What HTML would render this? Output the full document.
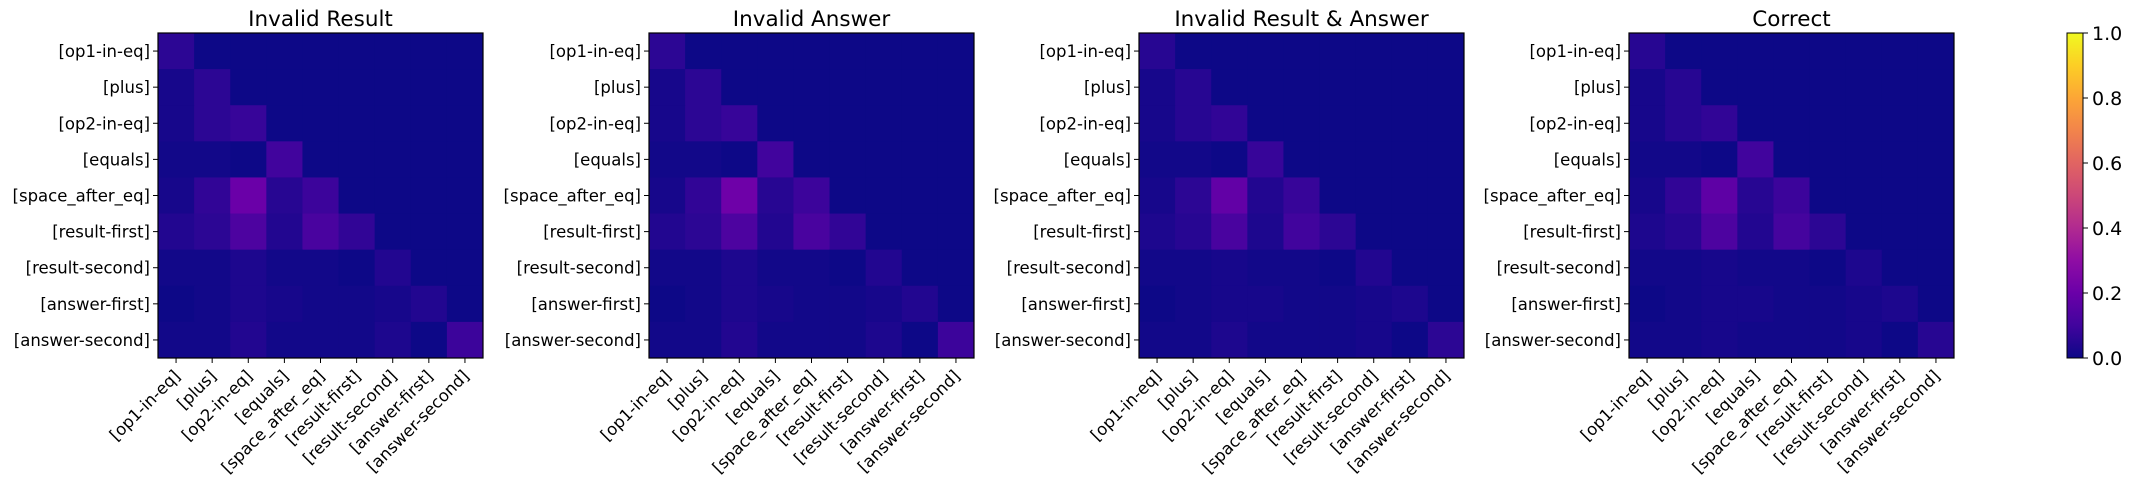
<!DOCTYPE html>
<html><head><meta charset="utf-8">
<style>
html,body{margin:0;padding:0;background:#fff;}
svg{display:block;font-family:"DejaVu Sans","Liberation Sans",sans-serif;}
</style></head>
<body>
<svg id="fig" width="2133" height="489" viewBox="0 0 2133 489" xmlns="http://www.w3.org/2000/svg">
<defs>
<linearGradient id="plasmaGrad" x1="0" y1="1" x2="0" y2="0">
<stop offset="0" stop-color="#0d0887"/><stop offset="0.1" stop-color="#41049d"/>
<stop offset="0.2" stop-color="#6a00a8"/><stop offset="0.3" stop-color="#8f0da4"/>
<stop offset="0.4" stop-color="#b12a90"/><stop offset="0.5" stop-color="#cc4778"/>
<stop offset="0.6" stop-color="#e16462"/><stop offset="0.7" stop-color="#f2844b"/>
<stop offset="0.8" stop-color="#fca636"/><stop offset="0.9" stop-color="#fcce25"/>
<stop offset="1" stop-color="#f0f921"/>
</linearGradient>
</defs>
</svg>
<script>
const labels = ["[op1-in-eq]","[plus]","[op2-in-eq]","[equals]","[space_after_eq]","[result-first]","[result-second]","[answer-first]","[answer-second]"];
const titles = ["Invalid Result","Invalid Answer","Invalid Result & Answer","Correct"];
const cbTicks = [0.0,0.2,0.4,0.6,0.8,1.0];
const m1 = [
[0.06,0,0,0,0,0,0,0,0],
[0.02,0.06,0,0,0,0,0,0,0],
[0.02,0.06,0.08,0,0,0,0,0,0],
[0.01,0.01,0.00,0.10,0,0,0,0,0],
[0.02,0.07,0.20,0.05,0.09,0,0,0,0],
[0.04,0.06,0.13,0.04,0.12,0.07,0,0,0],
[0.01,0.01,0.03,0.01,0.01,0.00,0.04,0,0],
[0.00,0.01,0.03,0.02,0.01,0.01,0.02,0.04,0],
[0.01,0.01,0.04,0.01,0.01,0.01,0.03,0.00,0.09]];
const m2 = [
[0.06,0,0,0,0,0,0,0,0],
[0.02,0.06,0,0,0,0,0,0,0],
[0.02,0.06,0.08,0,0,0,0,0,0],
[0.01,0.01,0.00,0.10,0,0,0,0,0],
[0.02,0.07,0.21,0.05,0.09,0,0,0,0],
[0.04,0.06,0.13,0.04,0.12,0.07,0,0,0],
[0.01,0.01,0.03,0.01,0.01,0.00,0.04,0,0],
[0.00,0.01,0.03,0.02,0.01,0.01,0.02,0.04,0],
[0.01,0.01,0.04,0.01,0.01,0.01,0.03,0.00,0.09]];
const m3 = [
[0.05,0,0,0,0,0,0,0,0],
[0.02,0.05,0,0,0,0,0,0,0],
[0.02,0.05,0.07,0,0,0,0,0,0],
[0.01,0.01,0.00,0.08,0,0,0,0,0],
[0.02,0.06,0.18,0.04,0.08,0,0,0,0],
[0.03,0.05,0.12,0.03,0.10,0.06,0,0,0],
[0.01,0.01,0.02,0.01,0.01,0.00,0.04,0,0],
[0.00,0.01,0.02,0.02,0.01,0.01,0.02,0.03,0],
[0.01,0.01,0.03,0.01,0.01,0.01,0.02,0.00,0.06]];
const m4 = [
[0.05,0,0,0,0,0,0,0,0],
[0.02,0.05,0,0,0,0,0,0,0],
[0.02,0.05,0.07,0,0,0,0,0,0],
[0.01,0.01,0.00,0.10,0,0,0,0,0],
[0.02,0.07,0.17,0.05,0.09,0,0,0,0],
[0.03,0.05,0.13,0.04,0.11,0.06,0,0,0],
[0.01,0.01,0.02,0.01,0.01,0.00,0.03,0,0],
[0.00,0.01,0.02,0.02,0.01,0.01,0.02,0.03,0],
[0.01,0.01,0.02,0.01,0.01,0.01,0.02,0.00,0.05]];
const matrices = [m1,m2,m3,m4];

const NS="http://www.w3.org/2000/svg";
const svg=document.getElementById('fig');
const stops=[[13,8,135],[65,4,157],[106,0,168],[143,13,164],[177,42,144],[204,71,120],[225,100,98],[242,132,75],[252,166,54],[252,206,37],[240,249,33]];
function plasma(v){v=Math.max(0,Math.min(1,v));const f=v*10,i=Math.min(9,Math.floor(f)),t=f-i;const a=stops[i],b=stops[i+1];
return 'rgb('+a.map((c,k)=>Math.round(c+(b[k]-c)*t)).join(',')+')';}
function el(tag,attrs,parent){const e=document.createElementNS(NS,tag);for(const k in attrs)e.setAttribute(k,attrs[k]);(parent||svg).appendChild(e);return e;}
const panelX=[158,649,1139,1629], top0=33, size=325, n=labels.length, cell=size/n;
const xScale=(px,j)=>px+j*cell, yScale=i=>top0+i*cell;

matrices.forEach((m,p)=>{
  const px=panelX[p];
  const g=el('g',{});
  
  
  m.forEach((row,i)=>row.forEach((v,j)=>{
    const r=el('rect',{x:xScale(px,j),y:yScale(i),width:cell+0.5,height:cell+0.5,fill:plasma(v)},g);
    
    
  }));
  const fr=el('rect',{x:px,y:top0,width:size,height:size,fill:'none',stroke:'#000','stroke-width':1.2},g);
  
  
  const t=el('text',{x:px+size/2,y:26,'text-anchor':'middle','font-size':21.5,fill:'#000'},g);
  t.textContent=titles[p];
  
  
  labels.forEach((lab,i)=>{
    const cy=yScale(i)+cell/2;
    el('line',{x1:px-5,x2:px,y1:cy,y2:cy,stroke:'#000','stroke-width':1},g);
    const yl=el('text',{x:px-8,y:cy+6,'text-anchor':'end','font-size':16.5,fill:'#000'},g);
    yl.textContent=lab;
    
    
    const cx=xScale(px,i)+cell/2;
    el('line',{x1:cx,x2:cx,y1:top0+size,y2:top0+size+5,stroke:'#000','stroke-width':1},g);
    const xl=el('text',{x:cx+5,y:top0+size+19,'text-anchor':'end','font-size':16.5,fill:'#000',transform:'rotate(-45 '+(cx+5)+' '+(top0+size+19)+')'},g);
    xl.textContent=lab;
    
    
  });
});

const cbX=2067,cbW=16;
const cb=el('rect',{x:cbX,y:top0,width:cbW,height:size,fill:'url(#plasmaGrad)',stroke:'#000','stroke-width':1});


cbTicks.forEach(v=>{
  const y=top0+size-v*size;
  el('line',{x1:cbX+cbW,x2:cbX+cbW+5,y1:y,y2:y,stroke:'#000','stroke-width':1});
  const tl=el('text',{x:cbX+cbW+9,y:y+7,'font-size':19,fill:'#000'});
  tl.textContent=v.toFixed(1);
  
  
});
</script>
</body></html>
